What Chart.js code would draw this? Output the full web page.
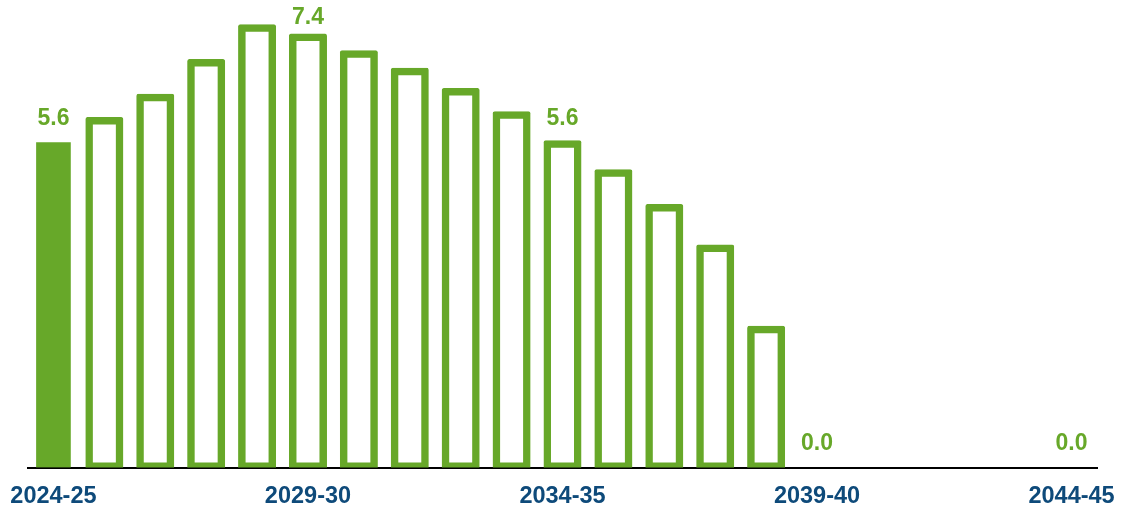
<!DOCTYPE html>
<html>
<head>
<meta charset="utf-8">
<script src="https://cdn.jsdelivr.net/npm/chart.js@4.4.1/dist/chart.umd.min.js"></script>
<style>
    html, body { margin: 0; padding: 0; background: #fff; }
    #wrap { width: 1122px; height: 509px; position: relative; }
</style>
</head>
<body>
<div id="wrap"><canvas id="chart"></canvas></div>
<script>
const years = ['2024-25', '2025-26', '2026-27', '2027-28', '2028-29', '2029-30', '2030-31',
    '2031-32', '2032-33', '2033-34', '2034-35', '2035-36', '2036-37', '2037-38', '2038-39',
    '2039-40', '2040-41', '2041-42', '2042-43', '2043-44', '2044-45'];
// first year is actual (filled), the rest are projections (outlined)
const actualValues = [5.6, null, null, null, null, null, null, null, null, null, null,
    null, null, null, null, null, null, null, null, null, null];
const projectedValues = [null, 6.0, 6.4, 7.0, 7.6, 7.44, 7.15, 6.85, 6.5, 6.1, 5.6,
    5.1, 4.5, 3.8, 2.4, 0, 0, 0, 0, 0, 0];
const labelledYears = ['2024-25', '2029-30', '2034-35', '2039-40', '2044-45'];

const green = '#67a829';
const navy = '#0e4a7a';
const font = '"Liberation Sans", Arial, sans-serif';

const valueLabels = {
    id: 'valueLabels',
    afterDatasetsDraw(chart) {
        const ctx = chart.ctx;
        const yScale = chart.scales.y;
        ctx.save();
        ctx.font = 'bold 23px ' + font;
        ctx.fillStyle = green;
        ctx.textAlign = 'center';
        ctx.textBaseline = 'alphabetic';
        labelledYears.forEach(function(yr) {
            const i = years.indexOf(yr);
            const d = actualValues[i] != null ? 0 : 1;
            const v = d === 0 ? actualValues[i] : projectedValues[i];
            const bar = chart.getDatasetMeta(d).data[i];
            let y = yScale.getPixelForValue(v) - 17.5;
            if (y < 24) y = 24;
            ctx.fillText(v.toFixed(1), bar.x, y);
        });
        ctx.restore();
    }
};

new Chart(document.getElementById('chart').getContext('2d'), {
    type: 'bar',
    data: {
        labels: years,
        datasets: [{
            data: actualValues,
            backgroundColor: green,
            borderWidth: 0,
            barThickness: 34
        }, {
            data: projectedValues,
            backgroundColor: 'rgba(0,0,0,0)',
            borderColor: green,
            // inflate + border = ~5px stroke centred on the bar edge
            borderWidth: 2.5,
            inflateAmount: 2.5,
            borderSkipped: false,
            borderRadius: 2,
            barThickness: 33
        }]
    },
    options: {
        responsive: true,
        maintainAspectRatio: false,
        animation: false,
        layout: {
            padding: { left: 28, right: 25, top: 3.5, bottom: 0 }
        },
        plugins: {
            legend: { display: false },
            tooltip: { enabled: false }
        },
        scales: {
            x: {
                stacked: true,
                grid: { display: false, drawTicks: false },
                border: { display: true, color: '#000', width: 2 },
                ticks: {
                    autoSkip: false,
                    maxRotation: 0,
                    padding: 14.5,
                    color: navy,
                    font: { family: font, size: 23.5, weight: 'bold' },
                    callback: function(v, i) {
                        return labelledYears.includes(years[i]) ? years[i] : '';
                    }
                },
                afterFit: function(scale) {
                    scale.paddingLeft = 0;
                    scale.paddingRight = 0;
                    scale.height = 41.5;
                }
            },
            y: {
                stacked: true,
                display: false,
                min: 0,
                max: 8
            }
        }
    },
    plugins: [valueLabels]
});
</script>
</body>
</html>
